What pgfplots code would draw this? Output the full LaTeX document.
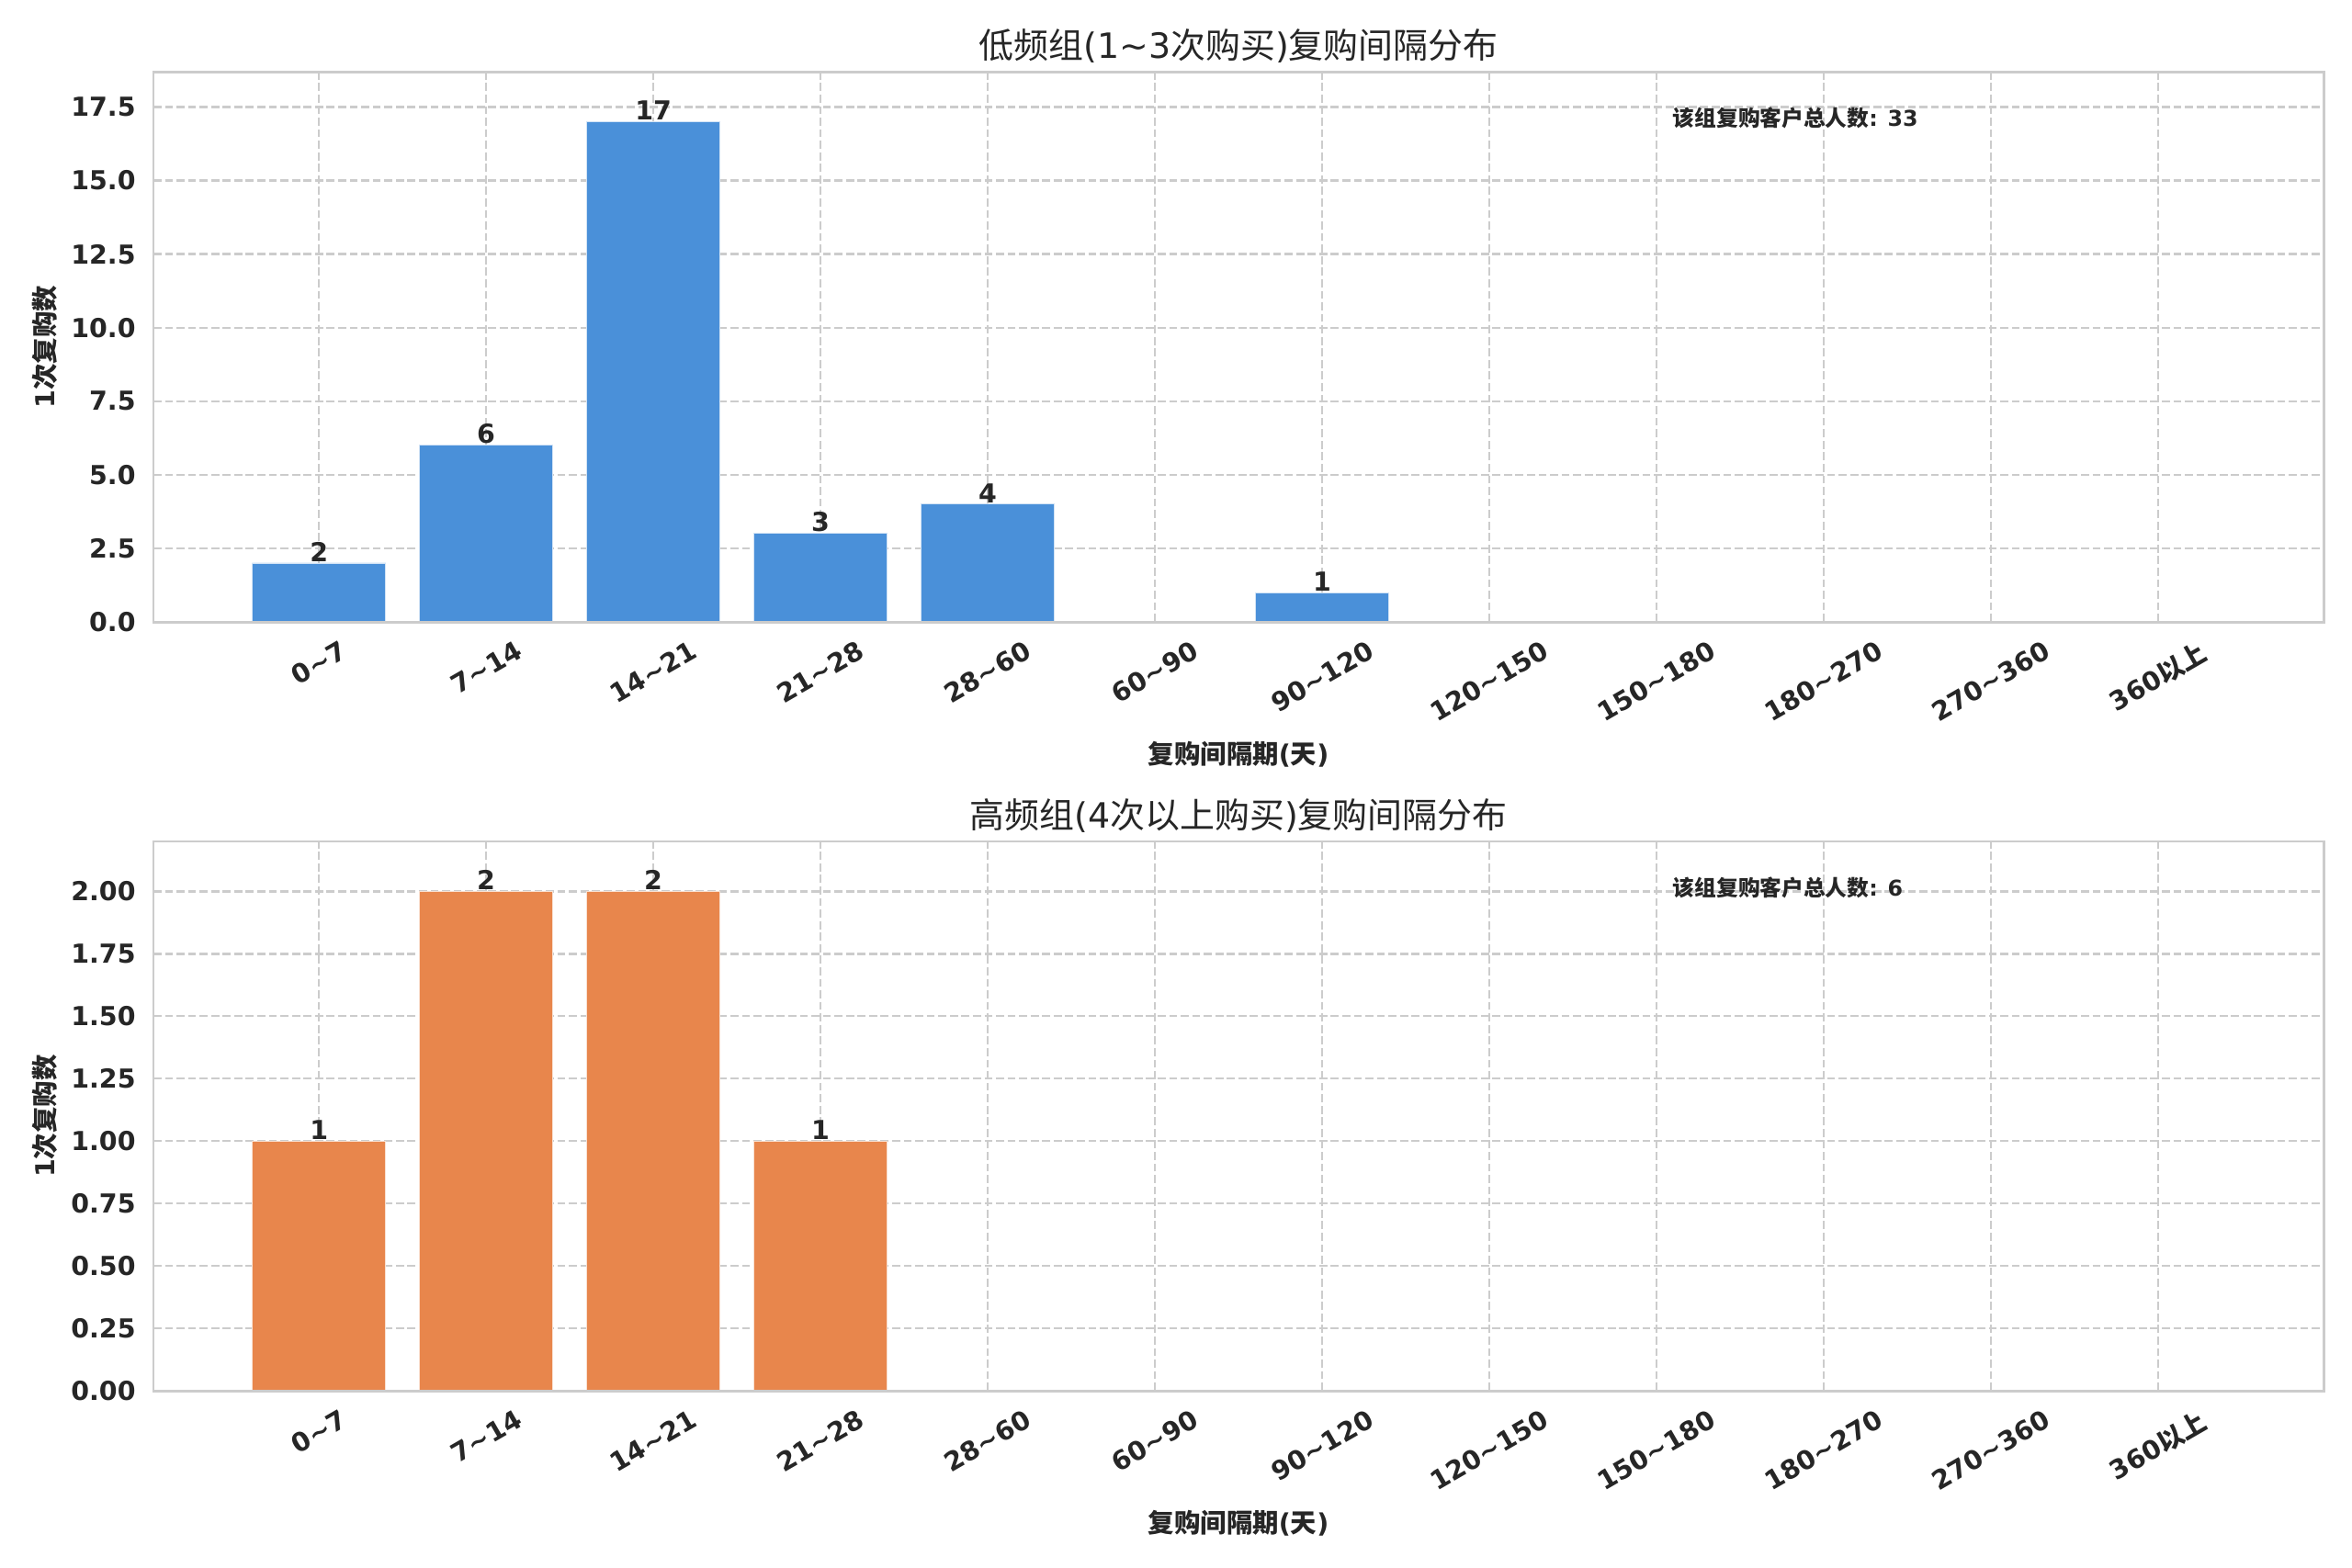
\documentclass[border=0pt]{standalone}
\usepackage{fontspec}
\setmainfont{DejaVu Sans}
\newfontfamily\cjk{Noto Sans CJK SC}
\usepackage{graphicx}
\usepackage{pgfplots}
\pgfplotsset{compat=1.18}
\usepackage{pgfplotstable}
\definecolor{barblue}{HTML}{4A90D9}
\definecolor{barorange}{HTML}{E8864C}
\definecolor{gridgray}{HTML}{CCCCCC}
\definecolor{txt}{HTML}{262626}
\newcommand{\rl}[1]{\rotatebox{30}{#1}}
\newcommand{\tl}{\textasciitilde}

\pgfplotstableread{
x y
0 2
1 6
2 17
3 3
4 4
5 0
6 1
7 0
8 0
9 0
10 0
11 0
}\lowdata

\pgfplotstableread{
x y
0 1
1 2
2 2
3 1
4 0
5 0
6 0
7 0
8 0
9 0
10 0
11 0
}\highdata

\pgfplotsset{myax/.style={
  scale only axis, width=996.5pt, anchor=south west,
  xmin=-0.99, xmax=11.99, ymin=0,
  xtick={0,...,11},
  xticklabels={\rl{0\tl7},\rl{7\tl14},\rl{14\tl21},\rl{21\tl28},\rl{28\tl60},\rl{60\tl90},\rl{90\tl120},\rl{120\tl150},\rl{150\tl180},\rl{180\tl270},\rl{270\tl360},\rl{360{\cjk 以上}}},
  grid=major,
  major grid style={gridgray, line width=1pt, dash pattern=on 3.7pt off 1.6pt},
  axis line style={gridgray, line width=1.25pt},
  major tick length=0pt,
  tick label style={font=\bfseries\fontsize{12}{14}\selectfont, text=txt},
  /pgf/number format/assume math mode=true,
  xticklabel style={anchor=north, inner sep=0pt, yshift=-8pt},
  yticklabel style={anchor=east, inner sep=0pt, xshift=-8pt},
  clip=false,
  ybar, bar width=0.8,
  nodes near coords={\pgfmathfloatifflags{\pgfplotspointmeta}{0}{}{\pgfmathprintnumber{\pgfplotspointmeta}}},
  every node near coord/.append style={font=\bfseries\fontsize{12}{14}\selectfont, text=txt, anchor=south, inner sep=0.5pt},
}}

\begin{document}
\begin{tikzpicture}
\path[use as bounding box] (0,0) rectangle (1080pt,720.14pt);

\begin{axis}[myax, at={(70.45pt,434.5pt)}, height=252.7pt, ymax=18.7,
  ytick={0,2.5,5,7.5,10,12.5,15,17.5},
  yticklabel style={/pgf/number format/.cd, fixed, fixed zerofill, precision=1}]
\addplot[fill=barblue, draw=white!75!barblue, line width=0.4pt] table[x=x, y=y] {\lowdata};
\draw[gridgray, line width=1.25pt] (rel axis cs:0,0) rectangle (rel axis cs:1,1);
\node[anchor=base, font=\fontsize{16}{19}\selectfont, text=txt, inner sep=0pt] at ([yshift=6pt]rel axis cs:0.5,1) {{\cjk 低频组}(1\tl3{\cjk 次购买}){\cjk 复购间隔分布}};
\node[font=\bfseries\fontsize{12}{14}\selectfont, text=txt] at ([yshift=-60.8pt]rel axis cs:0.5,0) {{\cjk 复购间隔期}({\cjk 天})};
\node[rotate=90, font=\bfseries\fontsize{12}{14}\selectfont, text=txt] at ([xshift=-49.8pt]rel axis cs:0,0.5) {1{\cjk 次复购数}};
\node[anchor=north west, font=\bfseries\fontsize{10}{12}\selectfont, text=txt, inner sep=0pt] at ([yshift=-3.5pt]rel axis cs:0.7,0.95) {{\cjk 该组复购客户总人数}: 33};
\end{axis}

\begin{axis}[myax, at={(70.45pt,81.4pt)}, height=252.3pt, ymax=2.2,
  ytick={0,0.25,0.5,0.75,1,1.25,1.5,1.75,2},
  yticklabel style={/pgf/number format/.cd, fixed, fixed zerofill, precision=2}]
\addplot[fill=barorange, draw=white!75!barorange, line width=0.4pt] table[x=x, y=y] {\highdata};
\draw[gridgray, line width=1.25pt] (rel axis cs:0,0) rectangle (rel axis cs:1,1);
\node[anchor=base, font=\fontsize{16}{19}\selectfont, text=txt, inner sep=0pt] at ([yshift=6pt]rel axis cs:0.5,1) {{\cjk 高频组}(4{\cjk 次以上购买}){\cjk 复购间隔分布}};
\node[font=\bfseries\fontsize{12}{14}\selectfont, text=txt] at ([yshift=-60.8pt]rel axis cs:0.5,0) {{\cjk 复购间隔期}({\cjk 天})};
\node[rotate=90, font=\bfseries\fontsize{12}{14}\selectfont, text=txt] at ([xshift=-49.8pt]rel axis cs:0,0.5) {1{\cjk 次复购数}};
\node[anchor=north west, font=\bfseries\fontsize{10}{12}\selectfont, text=txt, inner sep=0pt] at ([yshift=-3.5pt]rel axis cs:0.7,0.95) {{\cjk 该组复购客户总人数}: 6};
\end{axis}
\end{tikzpicture}
\end{document}
